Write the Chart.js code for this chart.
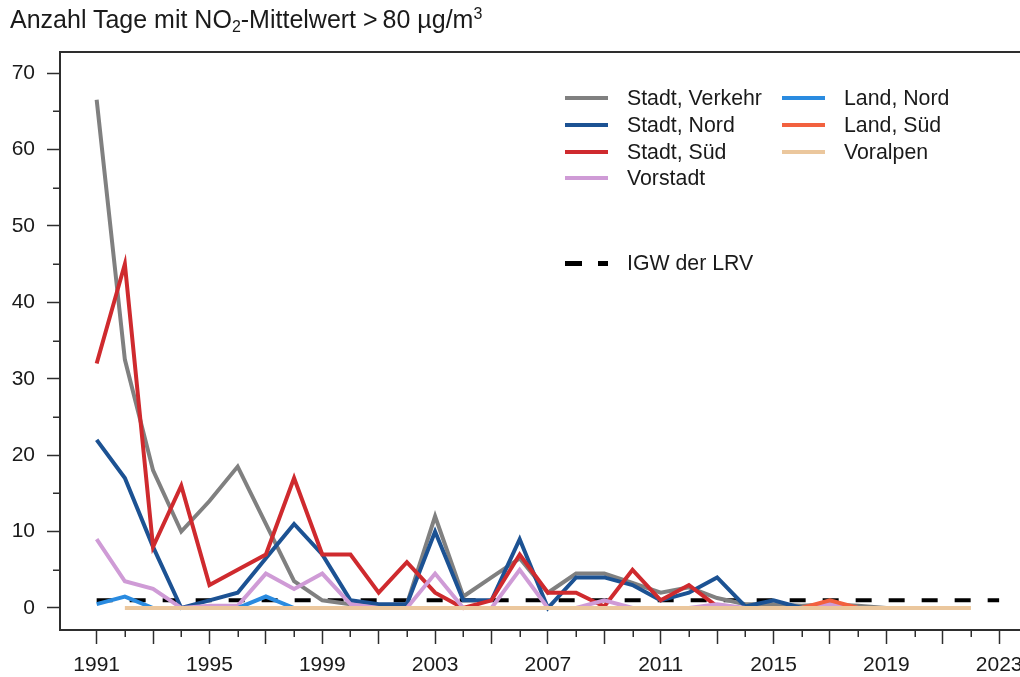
<!DOCTYPE html>
<html><head><meta charset="utf-8">
<script src="https://cdn.jsdelivr.net/npm/chart.js@4.4.1/dist/chart.umd.min.js"></script>
<style>
html,body{margin:0;padding:0;background:#fff;overflow:hidden}
#wrap{position:relative;width:1020px;height:677px;font-family:"Liberation Sans",Arial,sans-serif;color:#1a1a1a}
canvas{position:absolute;left:0;top:0}
#title{position:absolute;left:10px;top:4px;font-size:25px;white-space:nowrap;line-height:30px}
#title sub{font-size:0.64em;vertical-align:-0.22em;line-height:0}
#title sup{font-size:0.64em;vertical-align:0.55em;line-height:0}
.lg{position:absolute;height:28px;display:flex;align-items:center;font-size:21.3px;white-space:nowrap}
.lg i{display:inline-block;width:43px;height:4px;margin-right:19px}
</style></head><body>
<div id="wrap">
<canvas id="c" width="1020" height="677"></canvas>
<div id="title">Anzahl Tage mit NO<sub>2</sub>-Mittelwert &gt;&thinsp;80 µg/m<sup>3</sup></div>
<div id="legend"></div>
</div>
<script>
const years = [1991,1992,1993,1994,1995,1996,1997,1998,1999,2000,2001,2002,2003,2004,2005,2006,2007,2008,2009,2010,2011,2012,2013,2014,2015,2016,2017,2018,2019,2020,2021,2022,2023];
const xTickLabels = ['1991','1995','1999','2003','2007','2011','2015','2019','2023'];
const yTickLabels = ['0','10','20','30','40','50','60','70'];

const stadtVerkehr = [66.5,32.5,18,10,14,18.5,11,3.5,1,0.5,0.3,0.5,12,1.5,4,6.5,2,4.5,4.5,3.3,2,2.7,1.3,0.5,0.5,0.3,0.5,0.3,0,null,null,null,null];
const stadtNord = [22,17,8,0,1,2,6.5,11,7,1,0.5,0.5,10,1,1,9,0,4,4,3,1,2,4,0.2,1,0,null,null,null,null,null,null,null];
const stadtSued = [32,45,8,16,3,5,7,17,7,7,2,6,2,0,1,7,2,2,0.2,5,1,3,0.2,null,null,null,null,null,null,null,null,null,null];
const vorstadt = [9,3.5,2.5,0,0.3,0.3,4.5,2.5,4.5,0.5,0,0,4.5,0,0,5,0,0,1,0,0,0,0.5,0,0,0,0.5,0,null,null,null,null,null];
const landNord = [0.5,1.5,0,0,0,0,1.5,0,null,null,null,null,null,null,null,null,null,null,null,null,null,null,null,null,null,null,null,null,null,null,null,null,null];
const landSued = [null,null,null,null,null,null,null,null,null,null,null,null,null,null,null,null,null,null,null,null,null,null,null,null,null,0,1,0,null,null,null,null,null];
const voralpen = [null,0,0,0,0,0,0,0,0,0,0,0,0,0,0,0,0,0,0,0,0,0,0,0,0,0,0,0,0,0,0,0,null];
const igwLRV = [1,1,1,1,1,1,1,1,1,1,1,1,1,1,1,1,1,1,1,1,1,1,1,1,1,1,1,1,1,1,1,1,1];

const seriesNames = ['Stadt, Verkehr','Stadt, Nord','Stadt, Süd','Vorstadt','Land, Nord','Land, Süd','Voralpen','IGW der LRV'];
const seriesColors = ['#808080','#1c5293','#cf2a2e','#cf9bd6','#2a8be0','#f2613f','#ebc79d','#000000'];
const seriesValues = [stadtVerkehr,stadtNord,stadtSued,vorstadt,landNord,landSued,voralpen,igwLRV];
const drawOrder = [8,7,6,5,4,3,2,9]; // higher = further back

const FONT = '"Liberation Sans", Arial, sans-serif';
const AXIS = '#2e2e2e';
const TEXT = '#1a1a1a';

const datasets = seriesValues.map((vals, i) => ({
  label: seriesNames[i],
  data: years.map((yr, k) => ({x: yr, y: vals[k]})),
  borderColor: seriesColors[i],
  backgroundColor: seriesColors[i],
  borderWidth: 4,
  borderDash: i === 7 ? [16, 17] : [],
  pointRadius: 0,
  tension: 0,
  fill: false,
  spanGaps: false,
  order: drawOrder[i]
}));

const majorYears = years.filter(y => (y - 1991) % 2 === 0);
const minorYears = years.filter(y => (y - 1991) % 2 === 1);
const yMajor = yTickLabels.map(Number);
const yMinor = yMajor.slice(0, -1).map(v => v + 5);

const frameAndMinor = {
  id: 'frameAndMinor',
  afterDraw(chart) {
    const {ctx, chartArea, scales: {x, y}} = chart;
    ctx.save();
    ctx.strokeStyle = AXIS;
    ctx.lineWidth = 2;
    ctx.beginPath();
    ctx.moveTo(chartArea.left - 1, chartArea.top);
    ctx.lineTo(chartArea.right, chartArea.top);
    ctx.stroke();
    ctx.lineWidth = 1.5;
    ctx.beginPath();
    minorYears.forEach(v => {
      const px = Math.round(x.getPixelForValue(v)) + 0.25;
      ctx.moveTo(px, chartArea.bottom);
      ctx.lineTo(px, chartArea.bottom + 7);
    });
    yMinor.forEach(v => {
      const py = Math.round(y.getPixelForValue(v)) + 0.25;
      ctx.moveTo(chartArea.left, py);
      ctx.lineTo(chartArea.left - 7, py);
    });
    ctx.stroke();
    ctx.restore();
  }
};

new Chart(document.getElementById('c'), {
  type: 'line',
  data: {datasets},
  plugins: [frameAndMinor],
  options: {
    responsive: false,
    animation: false,
    devicePixelRatio: 1,
    layout: {padding: {top: 52, left: 0, right: 0, bottom: 0}},
    plugins: {legend: {display: false}, tooltip: {enabled: false}, title: {display: false}},
    scales: {
      x: {
        type: 'linear', min: 1989.7, max: 2023.74,
        afterBuildTicks: s => { s.ticks = majorYears.map(v => ({value: v})); },
        afterFit: s => { s.height = 47; s.paddingLeft = 0; s.paddingRight = 0; },
        ticks: {autoSkip: false, maxRotation: 0, padding: 9, color: TEXT, font: {family: FONT, size: 21},
          callback: v => xTickLabels.includes(String(v)) ? String(v) : ''},
        grid: {drawOnChartArea: false, drawTicks: true, tickLength: 14, tickColor: AXIS, tickWidth: 1.5},
        border: {display: true, color: AXIS, width: 2}
      },
      y: {
        type: 'linear', min: -2.88, max: 72.75,
        afterBuildTicks: s => { s.ticks = yMajor.map(v => ({value: v})); },
        afterFit: s => { s.width = 60; s.paddingTop = 0; s.paddingBottom = 0; },
        ticks: {padding: 12, color: TEXT, font: {family: FONT, size: 21},
          callback: v => yTickLabels.includes(String(v)) ? String(v) : ''},
        grid: {drawOnChartArea: false, drawTicks: true, tickLength: 13, tickColor: AXIS, tickWidth: 1.5},
        border: {display: true, color: AXIS, width: 2}
      }
    }
  }
});

// legend (two columns + reference line), built from series arrays
const legendSlots = [
  {i: 0, left: 565, cy: 98}, {i: 1, left: 565, cy: 125}, {i: 2, left: 565, cy: 152}, {i: 3, left: 565, cy: 178},
  {i: 4, left: 782, cy: 98}, {i: 5, left: 782, cy: 125}, {i: 6, left: 782, cy: 152},
  {i: 7, left: 565, cy: 263}
];
const lg = document.getElementById('legend');
legendSlots.forEach(s => {
  const d = document.createElement('div');
  d.className = 'lg';
  d.style.left = s.left + 'px';
  d.style.top = (s.cy - 14) + 'px';
  const sw = document.createElement('i');
  if (s.i === 7) {
    sw.style.height = '5px';
    sw.style.background = 'linear-gradient(to right,#000 0 17px,transparent 17px 33px,#000 33px 43px)';
  } else {
    sw.style.background = seriesColors[s.i];
  }
  d.appendChild(sw);
  d.appendChild(document.createTextNode(seriesNames[s.i]));
  lg.appendChild(d);
});
</script>
</body></html>
